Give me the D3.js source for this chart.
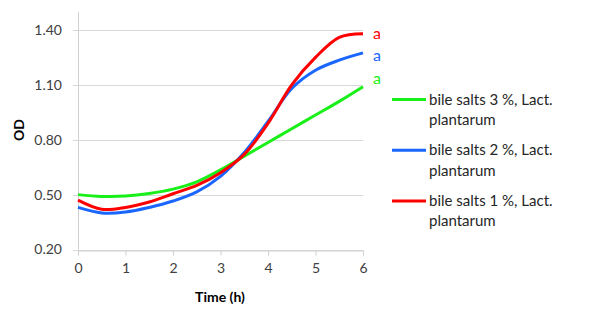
<!DOCTYPE html>
<html>
<head>
<meta charset="utf-8">
<script src="https://cdn.jsdelivr.net/npm/d3@7"></script>
<style>
  body { margin: 0; background: #fff; }
  text { font-family: Lato, "Open Sans", sans-serif; fill: #404040; }
</style>
</head>
<body>
<div class="chart"></div>
<script>
const w = 603;
const h = 326;

// time in hours
const hours = [0, 0.5, 1, 1.5, 2, 2.5, 3, 3.5, 4, 4.5, 5, 5.5, 6];
const bile3 = [0.50, 0.49, 0.492, 0.506, 0.53, 0.57, 0.635, 0.71, 0.785, 0.86, 0.935, 1.01, 1.09];
const bile2 = [0.43, 0.40, 0.405, 0.43, 0.465, 0.515, 0.60, 0.73, 0.90, 1.08, 1.18, 1.235, 1.275];
const bile1 = [0.47, 0.42, 0.43, 0.46, 0.505, 0.55, 0.62, 0.72, 0.89, 1.10, 1.25, 1.36, 1.38];
const yTicks = [0.20, 0.50, 0.80, 1.10, 1.40];
const xTicks = [0, 1, 2, 3, 4, 5, 6];
const seriesNames = ["bile salts 3 %, Lact. plantarum", "bile salts 2 %, Lact. plantarum", "bile salts 1 %, Lact. plantarum"];
const seriesColors = ["#19f019", "#1a66ff", "#ff0000"];
const letters = ["a", "a", "a"];

const series = [bile3, bile2, bile1].map((vals, i) => ({
    name: seriesNames[i],
    color: seriesColors[i],
    letter: letters[i],
    values: vals.map((v, j) => ({ t: hours[j], v: v }))
}));

const svg = d3.select(".chart")
    .append("svg")
    .attr("width", w)
    .attr("height", h);

const x = d3.scaleLinear().domain([0, 6]).range([78, 363]);
const y = d3.scaleLinear().domain([0.2, 1.4]).range([249.5, 30]);

// gridlines
svg.append("g")
    .selectAll("line")
    .data(yTicks)
    .enter()
    .append("line")
    .attr("x1", 73)
    .attr("x2", x(6))
    .attr("y1", d => Math.round(y(d)) + 0.5)
    .attr("y2", d => Math.round(y(d)) + 0.5)
    .attr("stroke", "#d9d9d9")
    .attr("stroke-width", 1);

// y axis
svg.append("line")
    .attr("x1", 78.5).attr("x2", 78.5)
    .attr("y1", 12).attr("y2", y(0.2))
    .attr("stroke", "#d0d0d0");

svg.append("g")
    .selectAll("text")
    .data(yTicks)
    .enter()
    .append("text")
    .attr("x", 62)
    .attr("y", d => y(d))
    .attr("dy", "0.35em")
    .attr("text-anchor", "end")
    .style("font-size", "14px")
    .text(d => d.toFixed(2));

// x axis
const xAxis = svg.append("g")
    .attr("transform", `translate(0, ${Math.round(y(0.2)) + 0.5})`)
    .call(d3.axisBottom(x).tickValues(xTicks).tickSize(5).tickFormat(d3.format("d")));
xAxis.select(".domain").attr("stroke", "#d0d0d0");
xAxis.selectAll(".tick line").attr("stroke", "#d0d0d0");
xAxis.selectAll(".tick text")
    .attr("y", 13)
    .style("font-family", "Lato, sans-serif")
    .style("font-size", "14px")
    .attr("fill", "#404040");

// axis titles
svg.append("text")
    .attr("transform", "translate(24, 130) rotate(-90)")
    .attr("text-anchor", "middle")
    .style("font-size", "14px")
    .style("font-weight", "bold")
    .style("fill", "#000")
    .text("OD");

svg.append("text")
    .attr("x", 220)
    .attr("y", 302)
    .attr("text-anchor", "middle")
    .style("font-size", "14px")
    .style("font-weight", "bold")
    .style("fill", "#000")
    .text("Time (h)");

// lines
const line = d3.line()
    .x(d => x(d.t))
    .y(d => y(d.v))
    .curve(d3.curveCatmullRom.alpha(0.5));

svg.append("g")
    .selectAll("path")
    .data(series)
    .enter()
    .append("path")
    .attr("d", d => line(d.values))
    .attr("fill", "none")
    .attr("stroke", d => d.color)
    .attr("stroke-width", 3)
    .attr("stroke-linejoin", "round");

// significance letters
const letterY = [78, 55.5, 33];
svg.append("g")
    .selectAll("text")
    .data(series)
    .enter()
    .append("text")
    .attr("x", 373)
    .attr("y", (d, i) => letterY[i])
    .attr("dy", "0.35em")
    .style("font-size", "16px")
    .style("fill", d => d.color)
    .text(d => d.letter);

// legend
const legend = svg.append("g")
    .selectAll("g")
    .data(series)
    .enter()
    .append("g")
    .attr("transform", (d, i) => `translate(392, ${99.5 + i * 50.7})`);

legend.append("line")
    .attr("x1", 0).attr("x2", 34)
    .attr("stroke", d => d.color)
    .attr("stroke-width", 3);

const lt = legend.append("text")
    .style("font-size", "15px")
    .style("fill", "#262626");

lt.append("tspan")
    .attr("x", 37)
    .attr("y", 5)
    .text(d => d.name.split(" Lact.")[0] + " Lact.");
lt.append("tspan")
    .attr("x", 37)
    .attr("y", 25.5)
    .text(d => d.name.split("Lact. ")[1]);
</script>
</body>
</html>
